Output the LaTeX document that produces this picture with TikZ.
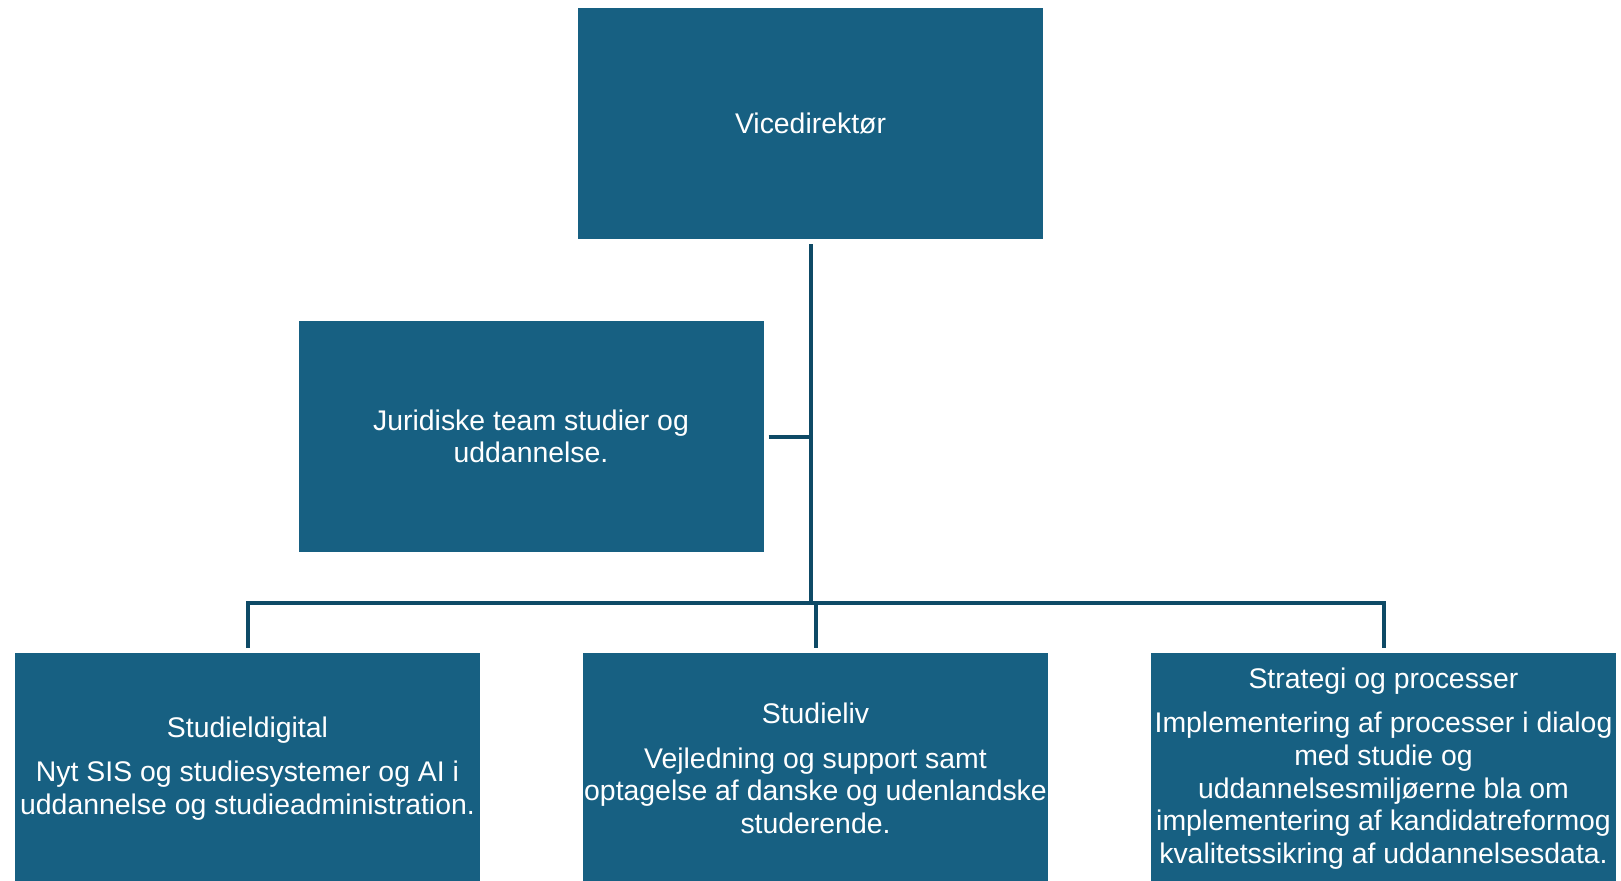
\documentclass[tikz,border=0pt]{standalone}
\usepackage{fontspec}
\setmainfont{Liberation Sans}
\definecolor{boxblue}{RGB}{23,96,130}
\definecolor{lineblue}{RGB}{14,74,102}
\tikzset{
    orgbox/.style={fill=boxblue,text=white,minimum width=232.5pt,minimum height=115.5pt,
        inner sep=0pt,outer sep=2.5pt,align=center,font=\fontsize{14.2pt}{16.3pt}\selectfont},
    orgline/.style={draw=lineblue,line width=2pt}
}
\begin{document}
\begin{tikzpicture}[x=0.5pt,y=-0.5pt]
            \path[use as bounding box,clip] (0,0) rectangle (1621,880);
            \fill[white] (0,0) rectangle (1621,880);

            \node[orgbox] (vd) at (810.5,123.5){Vicedirektør};
            \node[orgbox] (jur) at (531,436.5){Juridiske team studier og\\uddannelse.};

            \node[orgbox] (sd) at (247.5,768.5){Studieldigital\\[6pt]Nyt SIS og studiesystemer og AI i\\uddannelse og studieadministration.};
            \node[orgbox] (sl) at (815.5,768.5){Studieliv\\[6pt]Vejledning og support samt\\optagelse af danske og udenlandske\\studerende.};
            \node[orgbox] (sp) at (1383.5,768.5){Strategi og processer\\[6pt]Implementering af processer i dialog\\med studie og\\uddannelsesmiljøerne bla om\\implementering af kandidatreformog\\kvalitetssikring af uddannelsesdata.};

            \coordinate (jn) at (810.5,603);
            \draw[orgline] (vd.south) -- (jn);
            \draw[orgline] (jur.east) -- (jur.east -| vd.south);
            \draw[orgline] (sd.north) -- (sd.north |- jn) -- (sp.north |- jn) -- (sp.north);
            \draw[orgline] (sl.north |- jn) -- (sl.north);
        \end{tikzpicture}
\end{document}
